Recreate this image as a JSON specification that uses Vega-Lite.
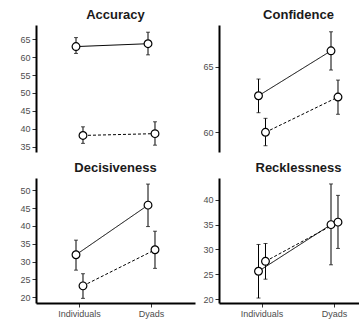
{
  "$schema": "https://vega.github.io/schema/vega-lite/v6.json",
  "padding": {"left": 5, "top": 9, "right": 0, "bottom": 2},
  "background": "white",
  "datasets": {
    "stats": [
      {"measure": "Accuracy", "group": "Individuals", "cond": "Condition 1", "mean": 62.9, "lo": 61.0, "hi": 65.4},
      {"measure": "Accuracy", "group": "Dyads", "cond": "Condition 1", "mean": 63.7, "lo": 60.6, "hi": 66.9},
      {"measure": "Accuracy", "group": "Individuals", "cond": "Condition 2", "mean": 38.2, "lo": 36.0, "hi": 40.6},
      {"measure": "Accuracy", "group": "Dyads", "cond": "Condition 2", "mean": 38.7, "lo": 35.5, "hi": 42.0},
      {"measure": "Confidence", "group": "Individuals", "cond": "Condition 1", "mean": 62.78, "lo": 61.48, "hi": 64.06},
      {"measure": "Confidence", "group": "Dyads", "cond": "Condition 1", "mean": 66.22, "lo": 64.75, "hi": 67.68},
      {"measure": "Confidence", "group": "Individuals", "cond": "Condition 2", "mean": 59.98, "lo": 58.95, "hi": 61.05},
      {"measure": "Confidence", "group": "Dyads", "cond": "Condition 2", "mean": 62.68, "lo": 61.36, "hi": 63.98},
      {"measure": "Decisiveness", "group": "Individuals", "cond": "Condition 1", "mean": 31.9, "lo": 27.6, "hi": 36.0},
      {"measure": "Decisiveness", "group": "Dyads", "cond": "Condition 1", "mean": 45.8, "lo": 39.8, "hi": 51.7},
      {"measure": "Decisiveness", "group": "Individuals", "cond": "Condition 2", "mean": 23.2, "lo": 19.7, "hi": 26.6},
      {"measure": "Decisiveness", "group": "Dyads", "cond": "Condition 2", "mean": 33.3, "lo": 28.1, "hi": 38.5},
      {"measure": "Recklessness", "group": "Individuals", "cond": "Condition 1", "mean": 25.6, "lo": 20.2, "hi": 31.0},
      {"measure": "Recklessness", "group": "Dyads", "cond": "Condition 1", "mean": 35.0, "lo": 26.9, "hi": 43.2},
      {"measure": "Recklessness", "group": "Individuals", "cond": "Condition 2", "mean": 27.6, "lo": 24.0, "hi": 31.2},
      {"measure": "Recklessness", "group": "Dyads", "cond": "Condition 2", "mean": 35.5, "lo": 30.2, "hi": 40.9}
    ]
  },
  "data": {"name": "stats"},
  "vconcat": [
    {
      "hconcat": [
        {
          "width": 159, "height": 127,
          "title": {"text": "Accuracy"},
          "transform": [{"filter": "datum.measure === 'Accuracy'"}],
          "encoding": {
            "x": {"field": "group", "type": "nominal", "sort": ["Individuals", "Dyads"], "scale": {"type": "band", "paddingInner": 0.806, "paddingOuter": 0.507, "align": 0.5}, "axis": null},
            "xOffset": {"field": "cond", "type": "nominal", "scale": {"paddingInner": 0, "paddingOuter": 0}}
          },
          "layer": [
            {"mark": {"type": "rule", "color": "black", "strokeWidth": 1}, "encoding": {"y": {"field": "lo", "type": "quantitative", "scale": {"domain": [33.6, 68.9], "nice": false, "zero": false}, "axis": {"values": [35, 40, 45, 50, 55, 60, 65], "labelOverlap": false, "minExtent": 31, "maxExtent": 31}}, "y2": {"field": "hi"}}},
            {"mark": {"type": "tick", "color": "black", "orient": "horizontal", "size": 4, "thickness": 1}, "encoding": {"y": {"field": "lo", "type": "quantitative", "scale": {"domain": [33.6, 68.9], "nice": false, "zero": false}, "axis": {"values": [35, 40, 45, 50, 55, 60, 65], "labelOverlap": false, "minExtent": 31, "maxExtent": 31}}}},
            {"mark": {"type": "tick", "color": "black", "orient": "horizontal", "size": 4, "thickness": 1}, "encoding": {"y": {"field": "hi", "type": "quantitative", "scale": {"domain": [33.6, 68.9], "nice": false, "zero": false}, "axis": {"values": [35, 40, 45, 50, 55, 60, 65], "labelOverlap": false, "minExtent": 31, "maxExtent": 31}}}},
            {"mark": {"type": "line", "color": "black", "strokeWidth": 1}, "encoding": {"y": {"field": "mean", "type": "quantitative", "scale": {"domain": [33.6, 68.9], "nice": false, "zero": false}, "axis": {"values": [35, 40, 45, 50, 55, 60, 65], "labelOverlap": false, "minExtent": 31, "maxExtent": 31}}, "strokeDash": {"field": "cond", "type": "nominal", "scale": {"domain": ["Condition 1", "Condition 2"], "range": [[1, 0], [3, 2]]}, "legend": null}}},
            {"mark": {"type": "point", "filled": true, "fill": "white", "stroke": "black", "strokeWidth": 1.2, "size": 60, "opacity": 1}, "encoding": {"y": {"field": "mean", "type": "quantitative", "scale": {"domain": [33.6, 68.9], "nice": false, "zero": false}, "axis": {"values": [35, 40, 45, 50, 55, 60, 65], "labelOverlap": false, "minExtent": 31, "maxExtent": 31}}}}
          ]
        },
        {
          "width": 140, "height": 127,
          "title": {"text": "Confidence", "dx": 9.5},
          "transform": [{"filter": "datum.measure === 'Confidence'"}],
          "encoding": {
            "x": {"field": "group", "type": "nominal", "sort": ["Individuals", "Dyads"], "scale": {"type": "band", "paddingInner": 0.807, "paddingOuter": 0.369, "align": 0.673}, "axis": null},
            "xOffset": {"field": "cond", "type": "nominal", "scale": {"paddingInner": 0, "paddingOuter": 0}}
          },
          "layer": [
            {"mark": {"type": "rule", "color": "black", "strokeWidth": 1}, "encoding": {"y": {"field": "lo", "type": "quantitative", "scale": {"domain": [58.47, 68.2], "nice": false, "zero": false}, "axis": {"values": [60, 65], "labelOverlap": false, "minExtent": 20, "maxExtent": 20}}, "y2": {"field": "hi"}}},
            {"mark": {"type": "tick", "color": "black", "orient": "horizontal", "size": 4, "thickness": 1}, "encoding": {"y": {"field": "lo", "type": "quantitative", "scale": {"domain": [58.47, 68.2], "nice": false, "zero": false}, "axis": {"values": [60, 65], "labelOverlap": false, "minExtent": 20, "maxExtent": 20}}}},
            {"mark": {"type": "tick", "color": "black", "orient": "horizontal", "size": 4, "thickness": 1}, "encoding": {"y": {"field": "hi", "type": "quantitative", "scale": {"domain": [58.47, 68.2], "nice": false, "zero": false}, "axis": {"values": [60, 65], "labelOverlap": false, "minExtent": 20, "maxExtent": 20}}}},
            {"mark": {"type": "line", "color": "black", "strokeWidth": 1}, "encoding": {"y": {"field": "mean", "type": "quantitative", "scale": {"domain": [58.47, 68.2], "nice": false, "zero": false}, "axis": {"values": [60, 65], "labelOverlap": false, "minExtent": 20, "maxExtent": 20}}, "strokeDash": {"field": "cond", "type": "nominal", "scale": {"domain": ["Condition 1", "Condition 2"], "range": [[1, 0], [3, 2]]}, "legend": null}}},
            {"mark": {"type": "point", "filled": true, "fill": "white", "stroke": "black", "strokeWidth": 1.2, "size": 60, "opacity": 1}, "encoding": {"y": {"field": "mean", "type": "quantitative", "scale": {"domain": [58.47, 68.2], "nice": false, "zero": false}, "axis": {"values": [60, 65], "labelOverlap": false, "minExtent": 20, "maxExtent": 20}}}}
          ]
        }
      ]
    },
    {
      "hconcat": [
        {
          "width": 159, "height": 125,
          "title": {"text": "Decisiveness"},
          "transform": [{"filter": "datum.measure === 'Decisiveness'"}],
          "encoding": {
            "x": {"field": "group", "type": "nominal", "sort": ["Individuals", "Dyads"], "scale": {"type": "band", "paddingInner": 0.806, "paddingOuter": 0.507, "align": 0.5}, "axis": {"labelAngle": 0, "domainWidth": 2}},
            "xOffset": {"field": "cond", "type": "nominal", "scale": {"paddingInner": 0, "paddingOuter": 0}}
          },
          "layer": [
            {"mark": {"type": "rule", "color": "black", "strokeWidth": 1}, "encoding": {"y": {"field": "lo", "type": "quantitative", "scale": {"domain": [18.4, 53.4], "nice": false, "zero": false}, "axis": {"values": [20, 25, 30, 35, 40, 45, 50], "labelOverlap": false, "minExtent": 31, "maxExtent": 31}}, "y2": {"field": "hi"}}},
            {"mark": {"type": "tick", "color": "black", "orient": "horizontal", "size": 4, "thickness": 1}, "encoding": {"y": {"field": "lo", "type": "quantitative", "scale": {"domain": [18.4, 53.4], "nice": false, "zero": false}, "axis": {"values": [20, 25, 30, 35, 40, 45, 50], "labelOverlap": false, "minExtent": 31, "maxExtent": 31}}}},
            {"mark": {"type": "tick", "color": "black", "orient": "horizontal", "size": 4, "thickness": 1}, "encoding": {"y": {"field": "hi", "type": "quantitative", "scale": {"domain": [18.4, 53.4], "nice": false, "zero": false}, "axis": {"values": [20, 25, 30, 35, 40, 45, 50], "labelOverlap": false, "minExtent": 31, "maxExtent": 31}}}},
            {"mark": {"type": "line", "color": "black", "strokeWidth": 1}, "encoding": {"y": {"field": "mean", "type": "quantitative", "scale": {"domain": [18.4, 53.4], "nice": false, "zero": false}, "axis": {"values": [20, 25, 30, 35, 40, 45, 50], "labelOverlap": false, "minExtent": 31, "maxExtent": 31}}, "strokeDash": {"field": "cond", "type": "nominal", "scale": {"domain": ["Condition 1", "Condition 2"], "range": [[1, 0], [3, 2]]}, "legend": null}}},
            {"mark": {"type": "point", "filled": true, "fill": "white", "stroke": "black", "strokeWidth": 1.2, "size": 60, "opacity": 1}, "encoding": {"y": {"field": "mean", "type": "quantitative", "scale": {"domain": [18.4, 53.4], "nice": false, "zero": false}, "axis": {"values": [20, 25, 30, 35, 40, 45, 50], "labelOverlap": false, "minExtent": 31, "maxExtent": 31}}}}
          ]
        },
        {
          "width": 140, "height": 125,
          "title": {"text": "Recklessness", "dx": 9.5},
          "transform": [{"filter": "datum.measure === 'Recklessness'"}],
          "encoding": {
            "x": {"field": "group", "type": "nominal", "sort": ["Individuals", "Dyads"], "scale": {"type": "band", "paddingInner": 0.807, "paddingOuter": 0.369, "align": 0.673}, "axis": {"labelAngle": 0, "domainWidth": 2}},
            "xOffset": {"field": "cond", "type": "nominal", "scale": {"paddingInner": 0, "paddingOuter": 0}}
          },
          "layer": [
            {"mark": {"type": "rule", "color": "black", "strokeWidth": 1}, "encoding": {"y": {"field": "lo", "type": "quantitative", "scale": {"domain": [19.2, 44.4], "nice": false, "zero": false}, "axis": {"values": [20, 25, 30, 35, 40], "labelOverlap": false, "minExtent": 20, "maxExtent": 20}}, "y2": {"field": "hi"}}},
            {"mark": {"type": "tick", "color": "black", "orient": "horizontal", "size": 4, "thickness": 1}, "encoding": {"y": {"field": "lo", "type": "quantitative", "scale": {"domain": [19.2, 44.4], "nice": false, "zero": false}, "axis": {"values": [20, 25, 30, 35, 40], "labelOverlap": false, "minExtent": 20, "maxExtent": 20}}}},
            {"mark": {"type": "tick", "color": "black", "orient": "horizontal", "size": 4, "thickness": 1}, "encoding": {"y": {"field": "hi", "type": "quantitative", "scale": {"domain": [19.2, 44.4], "nice": false, "zero": false}, "axis": {"values": [20, 25, 30, 35, 40], "labelOverlap": false, "minExtent": 20, "maxExtent": 20}}}},
            {"mark": {"type": "line", "color": "black", "strokeWidth": 1}, "encoding": {"y": {"field": "mean", "type": "quantitative", "scale": {"domain": [19.2, 44.4], "nice": false, "zero": false}, "axis": {"values": [20, 25, 30, 35, 40], "labelOverlap": false, "minExtent": 20, "maxExtent": 20}}, "strokeDash": {"field": "cond", "type": "nominal", "scale": {"domain": ["Condition 1", "Condition 2"], "range": [[1, 0], [3, 2]]}, "legend": null}}},
            {"mark": {"type": "point", "filled": true, "fill": "white", "stroke": "black", "strokeWidth": 1.2, "size": 60, "opacity": 1}, "encoding": {"y": {"field": "mean", "type": "quantitative", "scale": {"domain": [19.2, 44.4], "nice": false, "zero": false}, "axis": {"values": [20, 25, 30, 35, 40], "labelOverlap": false, "minExtent": 20, "maxExtent": 20}}}}
          ]
        }
      ],
      "spacing": 4
    }
  ],
  "spacing": 10,
  "config": {
    "view": {"stroke": null},
    "concat": {"spacing": 4},
    "font": "Liberation Sans",
    "title": {"fontSize": 13, "fontWeight": "bold", "color": "#1a1a1a", "offset": 3, "anchor": "middle", "font": "Liberation Sans"},
    "axis": {
      "grid": false, "title": null,
      "domainColor": "black", "domainWidth": 2,
      "tickColor": "#333333", "tickSize": 4, "tickWidth": 1,
      "labelPadding": 2, "labelFontSize": 9, "labelColor": "#4d4d4d", "labelFont": "Liberation Sans",
      "labelOverlap": false, "labelBound": false, "labelFlush": false
    }
  }
}
